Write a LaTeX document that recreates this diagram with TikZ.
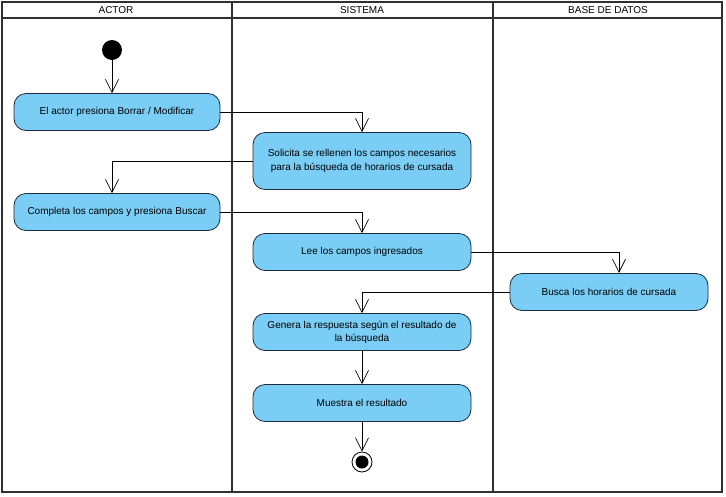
\documentclass[tikz,border=0pt]{standalone}
\usepackage{fontspec}
\setmainfont{Liberation Sans}
\usetikzlibrary{arrows.meta}
\definecolor{actfill}{HTML}{7ACDF4}
\definecolor{actdraw}{HTML}{1E2A3A}
\definecolor{lanecol}{HTML}{303030}
\begin{document}
\begin{tikzpicture}[x=1pt,y=-1pt,
  act/.style={draw=actdraw, fill=actfill, rounded corners=12pt, line width=0.8pt, minimum width=206pt, minimum height=37pt, align=center, font=\fontsize{10}{14.5}\selectfont, inner sep=2pt},
  wide/.style={act, minimum width=218pt},
  flow/.style={draw=black, line width=0.7pt, -{Straight Barb[length=13pt,width=13pt,line width=0.7pt]}},
  lane/.style={draw=lanecol, line width=1.6pt},
  hdr/.style={font=\fontsize{10}{12}\selectfont}
]
\useasboundingbox (0,0) rectangle (726,496);
% swimlanes
\draw[lane] (2,2) rectangle (722,492);
\draw[lane] (2,18) -- (722,18);
\draw[lane] (232,2) -- (232,492);
\draw[lane] (493,2) -- (493,492);
\node[hdr] (h1) at (116,10) {ACTOR};
\node[hdr] (h2) at (362,10) {SISTEMA};
\node[hdr] (h3) at (608,10) {BASE DE DATOS};
% nodes
\node[circle, fill=black, minimum size=20pt, inner sep=0pt] (start) at (112,50) {};
\node[act] (n1) at (117,112) {El actor presiona Borrar / Modificar};
\node[wide, minimum height=57pt] (n2) at (362,161) {Solicita se rellenen los campos necesarios\\para la búsqueda de horarios de cursada};
\node[act] (n3) at (117,212) {Completa los campos y presiona Buscar};
\node[wide] (n4) at (362,252) {Lee los campos ingresados};
\node[act, minimum width=198pt] (n5) at (609,292) {Busca los horarios de cursada};
\node[wide, font=\fontsize{10}{13}\selectfont] (n6) at (362,332) {Genera la respuesta según el resultado de\\la búsqueda};
\node[wide] (n7) at (362,403) {Muestra el resultado};
\node[circle, draw=black, line width=0.8pt, fill=white, minimum size=20pt, inner sep=0pt] (end) at (362,462) {};
\node[circle, fill=black, minimum size=13pt, inner sep=0pt] (endin) at (end) {};
% connectors
\draw[flow] (start) -- (start |- n1.north);
\draw[flow] (n1.east) -| (n2.north);
\draw[flow] (n2.west) -| (start |- n3.north);
\draw[flow] (n3.east) -| (n4.north);
\coordinate (c5) at (619,273);
\draw[flow] (n4.east) -| (c5);
\draw[flow] (n5.west) -| (n6.north);
\draw[flow] (n6) -- (n7);
\draw[flow] (n7) -- (end);
\end{tikzpicture}
\end{document}
